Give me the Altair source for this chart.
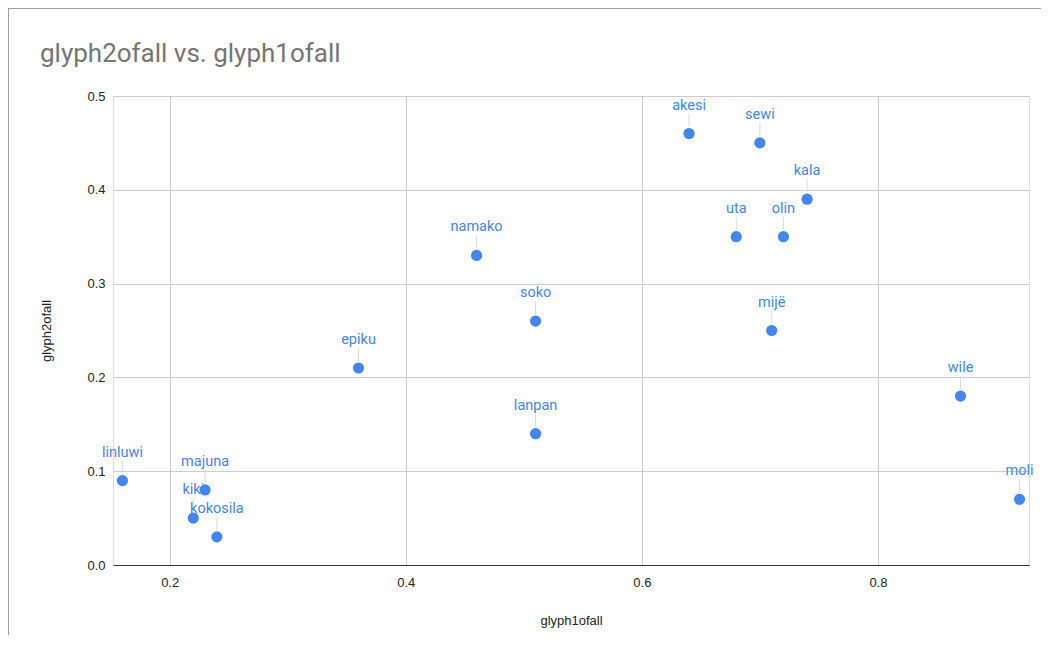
import altair as alt
import pandas as pd

names = ["linluwi", "majuna", "kiki", "kokosila", "epiku", "namako", "soko", "lanpan",
         "akesi", "sewi", "kala", "uta", "olin", "mijë", "wile", "moli"]
glyph1 = [0.16, 0.23, 0.22, 0.24, 0.36, 0.46, 0.51, 0.51,
          0.64, 0.70, 0.74, 0.68, 0.72, 0.71, 0.87, 0.92]
glyph2 = [0.09, 0.08, 0.05, 0.03, 0.21, 0.33, 0.26, 0.14,
          0.46, 0.45, 0.39, 0.35, 0.35, 0.25, 0.18, 0.07]
x_ticks = [0.2, 0.4, 0.6, 0.8]
y_ticks = [0.0, 0.1, 0.2, 0.3, 0.4, 0.5]
chart_title = "glyph2ofall vs. glyph1ofall"

df = pd.DataFrame({"name": names, "glyph1ofall": glyph1, "glyph2ofall": glyph2})

BLUE = "#4285F4"

xscale = alt.Scale(domain=[0.152, 0.928], nice=False, zero=False)
yscale = alt.Scale(domain=[0, 0.5], nice=False)

x_enc = alt.X("glyph1ofall:Q", scale=xscale,
              axis=alt.Axis(values=x_ticks, format=".1f", grid=True, gridColor="#cccccc",
                            ticks=False, domain=True, domainColor="#333333", domainWidth=1,
                            labelFont="Liberation Sans", labelFontSize=13, labelColor="#222222",
                            labelPadding=11, labelBaseline="top",
                            title="glyph1ofall", titleFont="Liberation Sans", titleFontSize=13,
                            titleFontWeight="normal", titleColor="#222222",
                            titleY=59, titleBaseline="alphabetic"))
y_enc = alt.Y("glyph2ofall:Q", scale=yscale,
              axis=alt.Axis(values=y_ticks, format=".1f", grid=True, gridColor="#cccccc",
                            ticks=False, domain=False,
                            labelFont="Liberation Sans", labelFontSize=13, labelColor="#222222",
                            labelPadding=8,
                            title="glyph2ofall", titleFont="Liberation Sans", titleFontSize=13,
                            titleFontWeight="normal", titleColor="#222222",
                            titleX=-63, titleY=234.5, titleAngle=-90, titleAlign="center",
                            titleBaseline="alphabetic"))

base = alt.Chart(df)

leaders = base.mark_rule(color="#d9d9d9", strokeWidth=1, yOffset=-7, y2Offset=-20).encode(
    x=x_enc, y=y_enc, y2="glyph2ofall:Q")

points = base.mark_circle(size=125, color=BLUE, opacity=1).encode(x=x_enc, y=y_enc)

labels = base.mark_text(dy=-24, baseline="alphabetic", align="center", font="Roboto",
                        fontSize=14.5, color=BLUE).encode(x=x_enc, y=y_enc, text="name:N")

title_df = pd.DataFrame({"t": [chart_title]})
title = alt.Chart(title_df).mark_text(align="left", baseline="alphabetic", font="Roboto",
                                      fontSize=26, color="#757575").encode(
    x=alt.value(-73), y=alt.value(-34), text="t:N")

border = alt.Chart(title_df).mark_rule(color="#9e9e9e", strokeWidth=1).encode(
    x=alt.value(-104.5), x2=alt.value(-104.5), y=alt.value(-88), y2=alt.value(600))
border_top = alt.Chart(title_df).mark_rule(color="#9e9e9e", strokeWidth=1).encode(
    x=alt.value(-105), x2=alt.value(940), y=alt.value(-87.5))

chart = alt.layer(border, border_top, leaders, points, labels, title).properties(
    width=916, height=469,
    autosize=alt.AutoSizeParams(type="none"),
    padding={"left": 105, "top": 88, "right": 12, "bottom": 70},
).configure_view(stroke=None).configure(background="white")

chart.save("out.html", embed_options={"renderer": "svg", "actions": False})
